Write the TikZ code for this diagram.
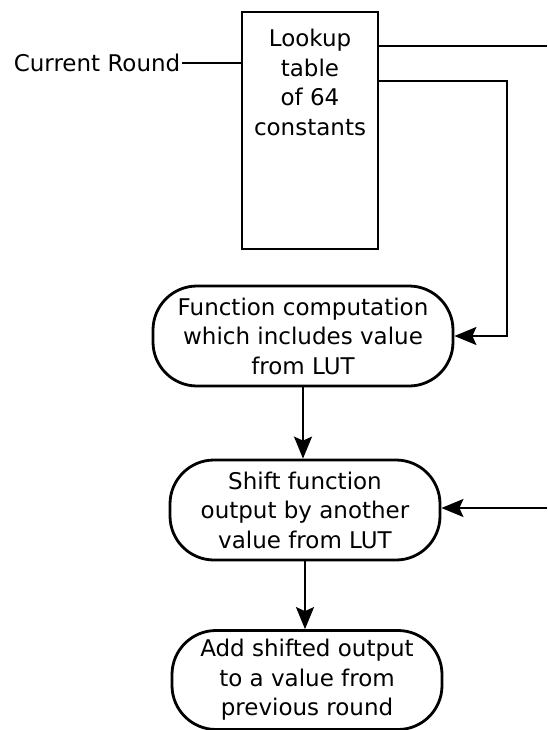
\documentclass[tikz,border=0pt]{standalone}
\usepackage{fontspec}
\setmainfont{DejaVu Sans}
\usetikzlibrary{arrows.meta,calc}
\begin{document}
\begin{tikzpicture}[x=1pt,y=-1pt,
  every node/.style={font=\fontsize{23}{29.5}\selectfont},
  lutbox/.style={draw,line width=2.6pt,rectangle,inner sep=0pt},
  procbox/.style={draw,line width=2.8pt,rounded corners=44pt,align=center,inner sep=0pt},
  wire/.style={line width=2pt},
  arr/.style={wire,-{Stealth[length=22pt,width=18pt,inset=4pt]}}]
\useasboundingbox (0,0) rectangle (547,730);

% lookup table block
\node[lutbox,minimum width=136pt,minimum height=237pt] (lut) at (310,130.5) {};
\node[align=center,anchor=north,inner sep=0pt] (luttext) at (310,29) {Lookup\\table\\of 64\\constants};

% round index input
\node[anchor=east,inner sep=1.5pt] (cr) at (182,63) {Current Round};
\draw[wire] (cr.east) -- (cr.east -| lut.west);

% processing steps
\node[procbox,minimum width=300pt,minimum height=100pt] (n1) at (303,336) {Function computation\\which includes value\\from LUT};
\node[procbox,minimum width=270pt,minimum height=100pt] (n2) at (305,510) {Shift function\\output by another\\value from LUT};
\node[procbox,minimum width=270pt,minimum height=99pt] (n3) at (307,680) {Add shifted output\\to a value from\\previous round};

% outputs of the lookup table
\coordinate (topend) at (547,46);
\draw[wire] (topend -| lut.east) -- (topend);
\coordinate (lutout) at (378,81);
\coordinate (bend) at (507,336);
\draw[arr] (lutout -| lut.east) -| (bend) -- (n1.east);

% flow between the steps
\draw[arr] (n1.south) -- (n1.south |- n2.north);
\draw[arr] (n2.south) -- (n2.south |- n3.north);

% second constant entering the shift step
\coordinate (rin) at (547,508);
\draw[arr] (rin) -- (rin -| n2.east);
\end{tikzpicture}
\end{document}
